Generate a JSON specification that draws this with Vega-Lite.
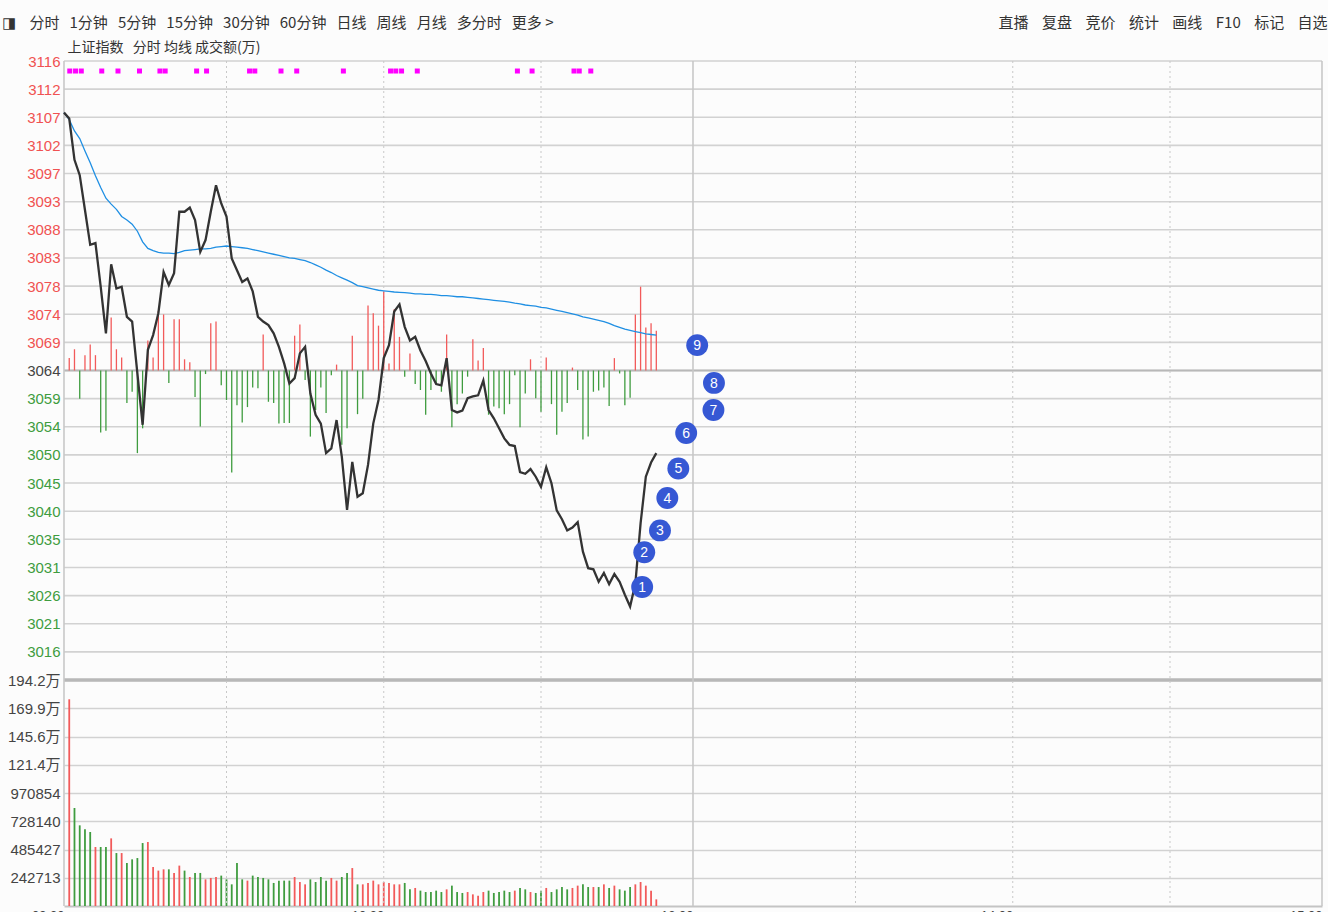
{
  "$schema": "https://vega.github.io/schema/vega-lite/v6.json",
  "width": 1258,
  "height": 845,
  "autosize": {"type": "none"},
  "padding": {"left": 64, "top": 61, "right": 6, "bottom": 6},
  "background": "#fcfcfc",
  "title": {
    "text": "◨\u00a0\u00a0\u00a0\u00a0分时\u00a0\u00a0\u00a01分钟\u00a0\u00a0\u00a05分钟\u00a0\u00a0\u00a015分钟\u00a0\u00a0\u00a030分钟\u00a0\u00a0\u00a060分钟\u00a0\u00a0\u00a0日线\u00a0\u00a0\u00a0周线\u00a0\u00a0\u00a0月线\u00a0\u00a0\u00a0多分时\u00a0\u00a0\u00a0更多 >\u3000\u3000\u3000\u3000\u3000\u3000\u3000\u3000\u3000\u3000\u3000\u3000\u3000\u3000\u3000\u3000\u3000\u3000\u3000\u3000\u3000\u3000\u3000\u3000\u3000\u3000\u3000\u3000\u3000\u00a0\u00a0\u00a0直播\u00a0\u00a0\u00a0\u00a0复盘\u00a0\u00a0\u00a0\u00a0竞价\u00a0\u00a0\u00a0\u00a0统计\u00a0\u00a0\u00a0\u00a0画线\u00a0\u00a0\u00a0\u00a0F10\u00a0\u00a0\u00a0\u00a0标记\u00a0\u00a0\u00a0\u00a0自选",
    "subtitle": "\u200b\u3000\u3000\u3000\u3000\u00a0\u00a0\u00a0上证指数\u00a0\u00a0\u00a0分时\u00a0均线\u00a0成交额(万)",
    "anchor": "start",
    "frame": "group",
    "dx": -62,
    "offset": -1,
    "font": "Noto Sans CJK SC",
    "fontSize": 15,
    "fontWeight": "normal",
    "color": "#333333",
    "subtitleFont": "Noto Sans CJK SC",
    "subtitleFontSize": 14,
    "subtitleColor": "#333333",
    "subtitlePadding": 10
  },
  "datasets": {
    "m": [
      {"t":0,"p":3107.7,"a":3107.7},
      {"t":1,"p":3106.7,"a":3106.5,"f":3066.1,"fc":"r","v":1776000,"vc":"r"},
      {"t":2,"p":3099.7,"a":3104.6,"f":3067.6,"fc":"r","v":842000,"vc":"g"},
      {"t":3,"p":3097.1,"a":3103.3,"f":3059.2,"fc":"g","v":693000,"vc":"g"},
      {"t":4,"p":3091.2,"a":3101.2,"f":3066.6,"fc":"r","v":659000,"vc":"g"},
      {"t":5,"p":3085.3,"a":3099.2,"f":3068.4,"fc":"r","v":636000,"vc":"g"},
      {"t":6,"p":3085.6,"a":3097.0,"f":3066.6,"fc":"r","v":507000,"vc":"r"},
      {"t":7,"p":3078.2,"a":3095.0,"f":3053.5,"fc":"g","v":507000,"vc":"g"},
      {"t":8,"p":3070.3,"a":3093.2,"f":3053.8,"fc":"g","v":507000,"vc":"g"},
      {"t":9,"p":3082.0,"a":3092.2,"f":3073.0,"fc":"r","v":581000,"vc":"r"},
      {"t":10,"p":3077.9,"a":3091.3,"f":3067.6,"fc":"r","v":455000,"vc":"g"},
      {"t":11,"p":3078.2,"a":3090.1,"f":3066.2,"fc":"r","v":455000,"vc":"r"},
      {"t":12,"p":3073.1,"a":3089.5,"f":3058.5,"fc":"g","v":369000,"vc":"g"},
      {"t":13,"p":3072.3,"a":3088.8,"f":3060.4,"fc":"g","v":401000,"vc":"g"},
      {"t":14,"p":3063.5,"a":3087.6,"f":3050.0,"fc":"g","v":412000,"vc":"g"},
      {"t":15,"p":3054.8,"a":3085.8,"f":3054.2,"fc":"g","v":541000,"vc":"g"},
      {"t":16,"p":3067.5,"a":3084.7,"f":3069.1,"fc":"r","v":550000,"vc":"r"},
      {"t":17,"p":3070.0,"a":3084.3,"f":3066.2,"fc":"r","v":335000,"vc":"r"},
      {"t":18,"p":3073.7,"a":3084.0,"f":3074.1,"fc":"r","v":304000,"vc":"r"},
      {"t":19,"p":3080.7,"a":3083.9,"f":3073.5,"fc":"r","v":315000,"vc":"r"},
      {"t":20,"p":3078.5,"a":3083.9,"f":3061.9,"fc":"g","v":315000,"vc":"g"},
      {"t":21,"p":3080.5,"a":3083.8,"f":3072.7,"fc":"r","v":284000,"vc":"r"},
      {"t":22,"p":3090.9,"a":3084.0,"f":3072.7,"fc":"r","v":347000,"vc":"r"},
      {"t":23,"p":3090.9,"a":3084.3,"f":3065.9,"fc":"r","v":304000,"vc":"g"},
      {"t":24,"p":3091.6,"a":3084.4,"f":3065.4,"fc":"r","v":249000,"vc":"r"},
      {"t":25,"p":3089.5,"a":3084.5,"f":3059.5,"fc":"g","v":284000,"vc":"g"},
      {"t":26,"p":3084.1,"a":3084.6,"f":3054.5,"fc":"g","v":284000,"vc":"g"},
      {"t":27,"p":3086.1,"a":3084.6,"f":3063.4,"fc":"g","v":229000,"vc":"r"},
      {"t":28,"p":3090.9,"a":3084.7,"f":3072.0,"fc":"r","v":241000,"vc":"r"},
      {"t":29,"p":3095.4,"a":3084.9,"f":3072.3,"fc":"r","v":249000,"vc":"r"},
      {"t":30,"p":3092.3,"a":3085.0,"f":3061.5,"fc":"g","v":261000,"vc":"g"},
      {"t":31,"p":3090.1,"a":3085.1,"f":3059.0,"fc":"g","v":229000,"vc":"g"},
      {"t":32,"p":3083.0,"a":3085.0,"f":3046.7,"fc":"g","v":186000,"vc":"g"},
      {"t":33,"p":3081.0,"a":3084.9,"f":3058.1,"fc":"g","v":369000,"vc":"g"},
      {"t":34,"p":3079.0,"a":3084.8,"f":3055.2,"fc":"g","v":229000,"vc":"g"},
      {"t":35,"p":3079.6,"a":3084.7,"f":3057.8,"fc":"g","v":218000,"vc":"r"},
      {"t":36,"p":3077.4,"a":3084.5,"f":3061.1,"fc":"g","v":261000,"vc":"g"},
      {"t":37,"p":3073.1,"a":3084.3,"f":3061.0,"fc":"g","v":249000,"vc":"g"},
      {"t":38,"p":3072.3,"a":3084.1,"f":3070.1,"fc":"r","v":241000,"vc":"g"},
      {"t":39,"p":3071.7,"a":3083.9,"f":3058.7,"fc":"g","v":229000,"vc":"g"},
      {"t":40,"p":3070.3,"a":3083.7,"f":3058.5,"fc":"g","v":198000,"vc":"g"},
      {"t":41,"p":3068.0,"a":3083.5,"f":3055.0,"fc":"g","v":218000,"vc":"g"},
      {"t":42,"p":3065.2,"a":3083.3,"f":3055.1,"fc":"g","v":218000,"vc":"g"},
      {"t":43,"p":3061.8,"a":3083.1,"f":3055.1,"fc":"g","v":218000,"vc":"g"},
      {"t":44,"p":3062.7,"a":3083.0,"f":3069.9,"fc":"r","v":249000,"vc":"r"},
      {"t":45,"p":3066.9,"a":3082.8,"f":3071.8,"fc":"r","v":206000,"vc":"r"},
      {"t":46,"p":3068.0,"a":3082.6,"f":3062.4,"fc":"g","v":186000,"vc":"r"},
      {"t":47,"p":3060.1,"a":3082.3,"f":3052.8,"fc":"g","v":229000,"vc":"g"},
      {"t":48,"p":3056.5,"a":3081.9,"f":3057.3,"fc":"g","v":206000,"vc":"g"},
      {"t":49,"p":3055.0,"a":3081.5,"f":3061.1,"fc":"g","v":249000,"vc":"g"},
      {"t":50,"p":3050.0,"a":3081.0,"f":3056.8,"fc":"g","v":218000,"vc":"g"},
      {"t":51,"p":3050.8,"a":3080.6,"f":3063.2,"fc":"g","v":241000,"vc":"r"},
      {"t":52,"p":3055.6,"a":3080.1,"f":3065.0,"fc":"r","v":218000,"vc":"r"},
      {"t":53,"p":3049.4,"a":3079.7,"f":3051.4,"fc":"g","v":249000,"vc":"g"},
      {"t":54,"p":3040.4,"a":3079.3,"f":3054.2,"fc":"g","v":284000,"vc":"g"},
      {"t":55,"p":3048.5,"a":3078.9,"f":3069.9,"fc":"r","v":326000,"vc":"r"},
      {"t":56,"p":3042.6,"a":3078.4,"f":3056.6,"fc":"g","v":186000,"vc":"g"},
      {"t":57,"p":3043.2,"a":3078.2,"f":3059.2,"fc":"g","v":186000,"vc":"r"},
      {"t":58,"p":3048.0,"a":3078.0,"f":3075.0,"fc":"r","v":198000,"vc":"r"},
      {"t":59,"p":3055.0,"a":3077.8,"f":3073.7,"fc":"r","v":218000,"vc":"r"},
      {"t":60,"p":3059.0,"a":3077.6,"f":3071.6,"fc":"r","v":186000,"vc":"r"},
      {"t":61,"p":3066.1,"a":3077.5,"f":3077.4,"fc":"r","v":206000,"vc":"r"},
      {"t":62,"p":3068.3,"a":3077.4,"f":3065.2,"fc":"r","v":198000,"vc":"r"},
      {"t":63,"p":3074.0,"a":3077.3,"f":3074.4,"fc":"r","v":186000,"vc":"r"},
      {"t":64,"p":3075.2,"a":3077.25,"f":3069.7,"fc":"r","v":186000,"vc":"r"},
      {"t":65,"p":3071.4,"a":3077.2,"f":3062.95,"fc":"g","v":198000,"vc":"g"},
      {"t":66,"p":3069.1,"a":3077.1,"f":3066.9,"fc":"r","v":143000,"vc":"g"},
      {"t":67,"p":3069.7,"a":3077.0,"f":3061.7,"fc":"g","v":155000,"vc":"r"},
      {"t":68,"p":3067.4,"a":3077.0,"f":3060.7,"fc":"g","v":132000,"vc":"g"},
      {"t":69,"p":3065.6,"a":3076.9,"f":3056.5,"fc":"g","v":120000,"vc":"g"},
      {"t":70,"p":3063.5,"a":3076.9,"f":3060.7,"fc":"g","v":120000,"vc":"g"},
      {"t":71,"p":3061.7,"a":3076.8,"f":3061.8,"fc":"g","v":132000,"vc":"g"},
      {"t":72,"p":3061.5,"a":3076.7,"f":3060.4,"fc":"g","v":120000,"vc":"g"},
      {"t":73,"p":3066.1,"a":3076.7,"f":3070.1,"fc":"r","v":143000,"vc":"r"},
      {"t":74,"p":3057.3,"a":3076.6,"f":3054.4,"fc":"g","v":175000,"vc":"g"},
      {"t":75,"p":3056.9,"a":3076.5,"f":3058.3,"fc":"g","v":120000,"vc":"g"},
      {"t":76,"p":3057.2,"a":3076.5,"f":3060.1,"fc":"g","v":112000,"vc":"g"},
      {"t":77,"p":3059.3,"a":3076.4,"f":3062.95,"fc":"g","v":120000,"vc":"r"},
      {"t":78,"p":3059.6,"a":3076.3,"f":3069.3,"fc":"r","v":100000,"vc":"r"},
      {"t":79,"p":3059.8,"a":3076.2,"f":3065.7,"fc":"r","v":89000,"vc":"r"},
      {"t":80,"p":3062.3,"a":3076.1,"f":3067.8,"fc":"r","v":120000,"vc":"r"},
      {"t":81,"p":3057.3,"a":3076.0,"f":3056.5,"fc":"g","v":132000,"vc":"g"},
      {"t":82,"p":3055.9,"a":3075.9,"f":3057.9,"fc":"g","v":112000,"vc":"g"},
      {"t":83,"p":3054.2,"a":3075.8,"f":3057.6,"fc":"g","v":120000,"vc":"g"},
      {"t":84,"p":3052.5,"a":3075.7,"f":3056.6,"fc":"g","v":132000,"vc":"g"},
      {"t":85,"p":3051.4,"a":3075.6,"f":3058.3,"fc":"g","v":120000,"vc":"g"},
      {"t":86,"p":3051.2,"a":3075.4,"f":3063.2,"fc":"g","v":132000,"vc":"r"},
      {"t":87,"p":3046.8,"a":3075.3,"f":3054.4,"fc":"g","v":155000,"vc":"g"},
      {"t":88,"p":3046.5,"a":3075.1,"f":3060.1,"fc":"g","v":143000,"vc":"g"},
      {"t":89,"p":3047.3,"a":3075.0,"f":3065.9,"fc":"r","v":120000,"vc":"r"},
      {"t":90,"p":3046.0,"a":3074.9,"f":3059.3,"fc":"g","v":112000,"vc":"g"},
      {"t":91,"p":3044.3,"a":3074.7,"f":3057.0,"fc":"g","v":132000,"vc":"g"},
      {"t":92,"p":3047.6,"a":3074.6,"f":3066.2,"fc":"r","v":155000,"vc":"r"},
      {"t":93,"p":3044.9,"a":3074.4,"f":3058.3,"fc":"g","v":120000,"vc":"g"},
      {"t":94,"p":3040.3,"a":3074.2,"f":3053.1,"fc":"g","v":143000,"vc":"g"},
      {"t":95,"p":3038.8,"a":3074.0,"f":3057.0,"fc":"g","v":163000,"vc":"g"},
      {"t":96,"p":3036.9,"a":3073.8,"f":3058.5,"fc":"g","v":143000,"vc":"g"},
      {"t":97,"p":3037.4,"a":3073.6,"f":3064.5,"fc":"r","v":155000,"vc":"r"},
      {"t":98,"p":3038.3,"a":3073.4,"f":3060.7,"fc":"g","v":175000,"vc":"r"},
      {"t":99,"p":3033.3,"a":3073.1,"f":3052.3,"fc":"g","v":186000,"vc":"g"},
      {"t":100,"p":3030.5,"a":3072.9,"f":3052.8,"fc":"g","v":163000,"vc":"g"},
      {"t":101,"p":3030.3,"a":3072.7,"f":3060.4,"fc":"g","v":163000,"vc":"r"},
      {"t":102,"p":3028.2,"a":3072.5,"f":3060.6,"fc":"g","v":163000,"vc":"g"},
      {"t":103,"p":3029.7,"a":3072.3,"f":3061.1,"fc":"g","v":186000,"vc":"r"},
      {"t":104,"p":3027.8,"a":3072.0,"f":3058.0,"fc":"g","v":155000,"vc":"g"},
      {"t":105,"p":3029.5,"a":3071.6,"f":3066.1,"fc":"r","v":175000,"vc":"r"},
      {"t":106,"p":3028.2,"a":3071.3,"f":3063.5,"fc":"g","v":143000,"vc":"g"},
      {"t":107,"p":3026.0,"a":3071.0,"f":3058.1,"fc":"g","v":132000,"vc":"g"},
      {"t":108,"p":3024.0,"a":3070.8,"f":3059.4,"fc":"g","v":163000,"vc":"g"},
      {"t":109,"p":3027.9,"a":3070.6,"f":3073.5,"fc":"r","v":186000,"vc":"r"},
      {"t":110,"p":3038.1,"a":3070.4,"f":3078.2,"fc":"r","v":206000,"vc":"r"},
      {"t":111,"p":3046.0,"a":3070.2,"f":3071.3,"fc":"r","v":175000,"vc":"r"},
      {"t":112,"p":3048.4,"a":3070.1,"f":3072.0,"fc":"r","v":132000,"vc":"r"},
      {"t":113,"p":3050.0,"a":3070.0,"f":3070.75,"fc":"r","v":57000,"vc":"r"}
    ],
    "grid": [
      {"g":3011.552},{"g":3016.32},{"g":3021.088},{"g":3025.856},{"g":3030.624},{"g":3035.392},
      {"g":3040.16},{"g":3044.928},{"g":3049.696},{"g":3054.464},{"g":3059.232},{"g":3064},
      {"g":3068.768},{"g":3073.536},{"g":3078.304},{"g":3083.072},{"g":3087.84},{"g":3092.608},
      {"g":3097.376},{"g":3102.144},{"g":3106.912},{"g":3111.68},{"g":3116.448}
    ],
    "vgrid": [
      {"t":0},{"t":31},{"t":61},{"t":91},{"t":120},{"t":151},{"t":181},{"t":211},{"t":240}
    ],
    "sq": [
      {"t":1.1},{"t":2.2},{"t":3.3},{"t":7.2},{"t":10.3},{"t":14.4},{"t":18.3},{"t":19.3},
      {"t":25.3},{"t":27.2},{"t":35.4},{"t":36.4},{"t":41.4},{"t":44.4},{"t":53.3},{"t":62.3},
      {"t":63.3},{"t":64.4},{"t":67.4},{"t":86.5},{"t":89.3},{"t":97.3},{"t":98.3},{"t":100.5}
    ],
    "mk": [
      {"n":"1","t":110.3,"y":3027.3},
      {"n":"2","t":110.7,"y":3033.2},
      {"n":"3","t":113.7,"y":3036.9},
      {"n":"4","t":115.1,"y":3042.4},
      {"n":"5","t":117.2,"y":3047.4},
      {"n":"6","t":118.7,"y":3053.4},
      {"n":"7","t":123.9,"y":3057.3},
      {"n":"8","t":124.0,"y":3061.9},
      {"n":"9","t":120.8,"y":3068.3}
    ]
  },
  "layer": [
    {
      "data": {"name": "grid"},
      "mark": {"type": "rule"},
      "encoding": {
        "y": {
          "field": "g",
          "type": "quantitative",
          "scale": {"domain": [3011.552, 3116.448], "range": [619, 0], "nice": false, "zero": false},
          "axis": {
            "orient": "left",
            "values": [3016.32, 3021.088, 3025.856, 3030.624, 3035.392, 3040.16, 3044.928, 3049.696, 3054.464, 3059.232, 3064, 3068.768, 3073.536, 3078.304, 3083.072, 3087.84, 3092.608, 3097.376, 3102.144, 3106.912, 3111.68, 3116.448],
            "labelExpr": "format(round(datum.value), 'd')",
            "title": null,
            "grid": false,
            "ticks": false,
            "domain": false,
            "labelPadding": 4,
            "labelFontSize": 15,
            "labelFont": "Liberation Sans",
            "labelBaseline": "middle",
            "labelOverlap": false,
            "labelFlush": false,
            "labelBound": false,
            "labelColor": {
              "condition": [
                {"test": "datum.value > 3064.5", "value": "#f05252"},
                {"test": "datum.value < 3063.5", "value": "#3f9c3f"}
              ],
              "value": "#444444"
            }
          }
        },
        "color": {"value": "#d2d2d2"},
        "strokeWidth": {"value": 1.6}
      }
    },
    {
      "data": {"name": "grid"},
      "transform": [{"filter": "datum.g == 3064 || datum.g < 3012"}],
      "mark": {"type": "rule"},
      "encoding": {
        "y": {"field": "g", "type": "quantitative", "scale": {"domain": [3011.552, 3116.448], "range": [619, 0], "nice": false, "zero": false}, "axis": null},
        "color": {"value": "#b8b8b8"},
        "strokeWidth": {"condition": {"test": "datum.g < 3012", "value": 3.5}, "value": 2.2}
      }
    },
    {
      "data": {"name": "m"},
      "transform": [{"filter": "datum.v != null"}],
      "mark": {"type": "rule", "strokeWidth": 1.8},
      "encoding": {
        "x": {"field": "t", "type": "quantitative", "scale": {"domain": [0, 240], "nice": false, "zero": true},
          "axis": {
            "values": [0, 61, 120, 181, 240],
            "labelExpr": "datum.value == 0 ? '09:30' : datum.value == 61 ? '10:30' : datum.value == 120 ? '13:00' : datum.value == 181 ? '14:00' : '15:00'",
            "title": null,
            "grid": false,
            "ticks": false,
            "domain": true,
            "domainColor": "#c4c4c4",
            "domainWidth": 2,
            "labelAlign": "right",
            "labelBaseline": "top",
            "labelPadding": 3,
            "labelFontSize": 13,
            "labelColor": "#444444",
            "labelFont": "Liberation Sans",
            "labelOverlap": false,
            "labelFlush": false,
            "labelBound": false
          }
        },
        "y": {
          "field": "v",
          "type": "quantitative",
          "scale": {"domain": [0, 1941708], "range": [845, 619], "nice": false, "zero": true},
          "axis": {
            "orient": "left",
            "values": [242713.5, 485427, 728140.5, 970854, 1213567.5, 1456281, 1698994.5, 1941708],
            "labelExpr": "datum.value >= 1000000 ? format(datum.value / 10000, '.1f') + '万' : format(floor(datum.value), 'd')",
            "title": null,
            "grid": true,
            "ticks": false,
            "domain": false,
            "labelPadding": 4,
            "labelFontSize": 15,
            "labelFont": "Liberation Sans, Noto Sans CJK SC",
            "labelColor": "#444444",
            "labelBaseline": "middle",
            "labelOverlap": false,
            "labelFlush": false,
            "labelBound": false,
            "gridColor": "#d2d2d2",
            "gridWidth": 1.6
          }
        },
        "y2": {"datum": 0},
        "color": {"field": "vc", "type": "nominal", "scale": {"domain": ["r", "g"], "range": ["#f25a5a", "#3f9c3f"]}, "legend": null}
      }
    },
    {
      "data": {"name": "vgrid"},
      "mark": {"type": "rule", "color": "#c8c8c8"},
      "encoding": {
        "x": {"field": "t", "type": "quantitative"},
        "strokeDash": {"condition": {"test": "datum.t == 0 || datum.t == 120 || datum.t == 240", "value": [1, 0]}, "value": [2, 3]},
        "strokeWidth": {"condition": {"test": "datum.t == 0 || datum.t == 120 || datum.t == 240", "value": 1.6}, "value": 1}
      }
    },
    {
      "data": {"name": "m"},
      "transform": [{"filter": "datum.f != null"}],
      "mark": {"type": "rule", "strokeWidth": 1.3},
      "encoding": {
        "x": {"field": "t", "type": "quantitative"},
        "y": {"field": "f", "type": "quantitative", "scale": {"domain": [3011.552, 3116.448], "range": [619, 0], "nice": false, "zero": false}, "axis": null},
        "y2": {"datum": 3064},
        "color": {"field": "fc", "type": "nominal", "scale": {"domain": ["r", "g"], "range": ["#f25a5a", "#3f9c3f"]}, "legend": null}
      }
    },
    {
      "data": {"name": "m"},
      "mark": {"type": "line", "color": "#1f8fe3", "strokeWidth": 1.3},
      "encoding": {
        "x": {"field": "t", "type": "quantitative"},
        "y": {"field": "a", "type": "quantitative", "scale": {"domain": [3011.552, 3116.448], "range": [619, 0], "nice": false, "zero": false}, "axis": null}
      }
    },
    {
      "data": {"name": "m"},
      "mark": {"type": "line", "color": "#333333", "strokeWidth": 2.3},
      "encoding": {
        "x": {"field": "t", "type": "quantitative"},
        "y": {"field": "p", "type": "quantitative", "scale": {"domain": [3011.552, 3116.448], "range": [619, 0], "nice": false, "zero": false}, "axis": null}
      }
    },
    {
      "data": {"name": "sq"},
      "mark": {"type": "square", "filled": true, "color": "#ff00ff", "size": 25, "opacity": 1},
      "encoding": {
        "x": {"field": "t", "type": "quantitative"},
        "y": {"datum": 3114.75, "type": "quantitative", "scale": {"domain": [3011.552, 3116.448], "range": [619, 0], "nice": false, "zero": false}, "axis": null}
      }
    },
    {
      "data": {"name": "mk"},
      "mark": {"type": "circle", "color": "#3658d4", "size": 480, "opacity": 1},
      "encoding": {
        "x": {"field": "t", "type": "quantitative"},
        "y": {"field": "y", "type": "quantitative", "scale": {"domain": [3011.552, 3116.448], "range": [619, 0], "nice": false, "zero": false}, "axis": null}
      }
    },
    {
      "data": {"name": "mk"},
      "mark": {"type": "text", "color": "#ffffff", "fontSize": 14, "font": "Liberation Sans", "align": "center", "baseline": "middle", "dy": 1},
      "encoding": {
        "x": {"field": "t", "type": "quantitative"},
        "y": {"field": "y", "type": "quantitative", "scale": {"domain": [3011.552, 3116.448], "range": [619, 0], "nice": false, "zero": false}, "axis": null},
        "text": {"field": "n", "type": "nominal"}
      }
    }
  ],
  "resolve": {"scale": {"y": "independent"}, "axis": {"y": "independent"}},
  "config": {
    "view": {"stroke": null},
    "font": "Liberation Sans"
  }
}
